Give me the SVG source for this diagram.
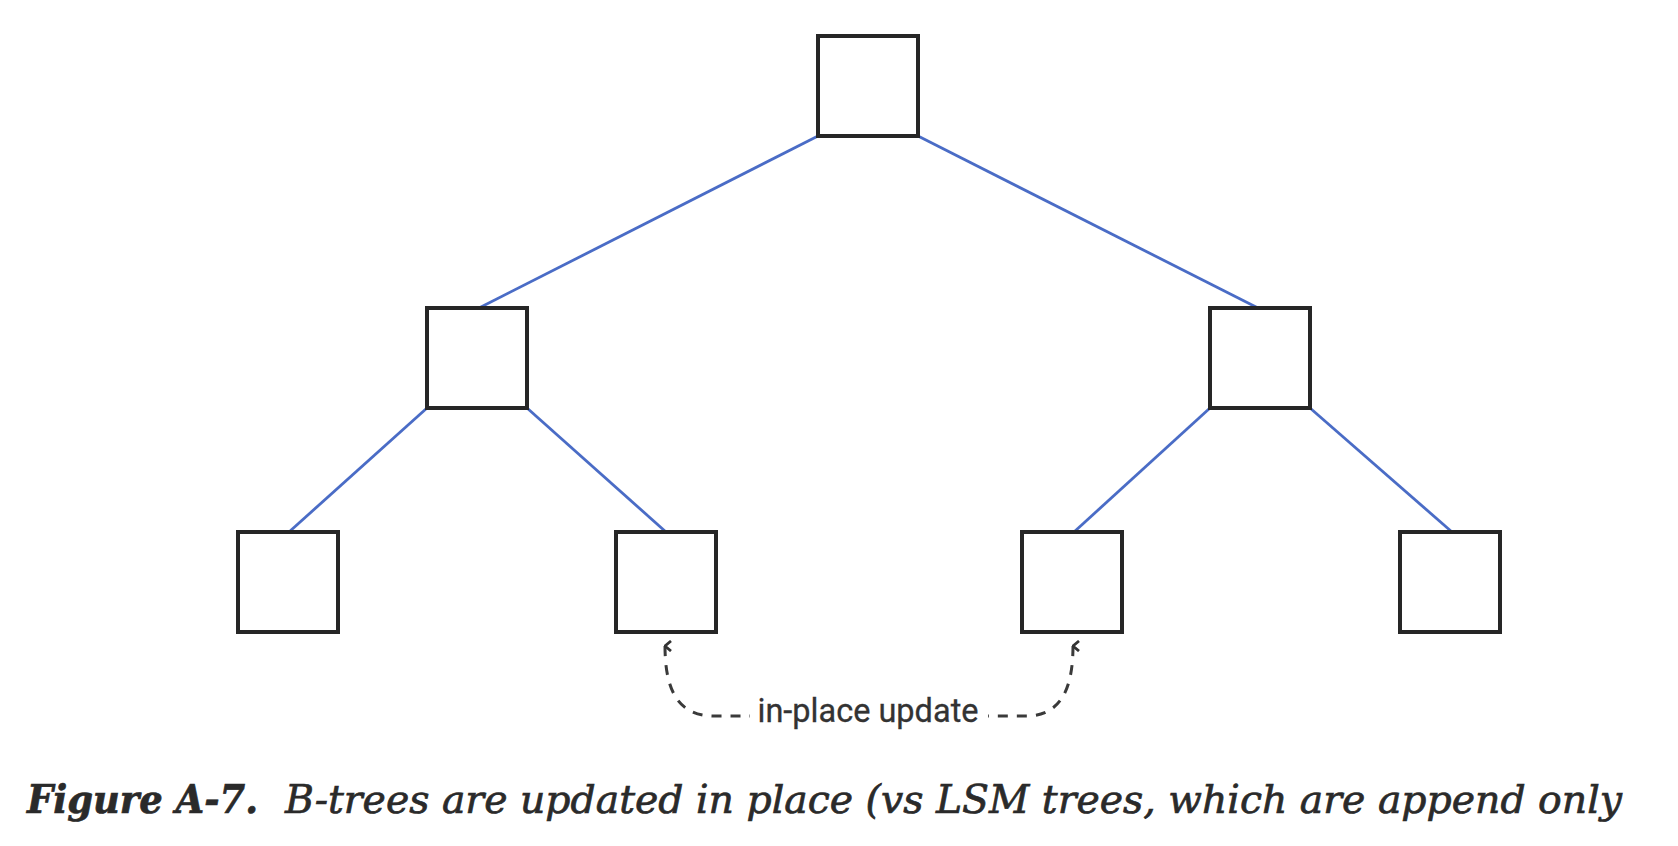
<svg xmlns="http://www.w3.org/2000/svg" width="1678" height="846" viewBox="0 0 1678 846">
<defs>
<style>
.node{fill:#ffffff;stroke:#262626;stroke-width:4}
.edge{stroke:#4a6cc6;stroke-width:2.8;fill:none}
.dash{stroke:#3a3a3a;stroke-width:3;fill:none;stroke-dasharray:10 9}
.lbl{font-family:Roboto,"Liberation Sans",sans-serif;font-size:32.5px;fill:#333333;stroke:#333333;stroke-width:0.3}
.cap{font-family:"DejaVu Serif","Liberation Serif",serif;font-style:italic;font-size:39px;fill:#2a2a2a;stroke:#2a2a2a;stroke-width:0.7}
</style>
<marker id="arr" viewBox="0 0 12 10" refX="6" refY="1.5" markerWidth="12" markerHeight="10" markerUnits="userSpaceOnUse" orient="auto-start-reverse">
<path d="M1,7.5 L6,1.5 L11,7.5" fill="none" stroke="#333333" stroke-width="2.8"/>
</marker>
</defs>
<rect width="1678" height="846" fill="#ffffff"/>
<g id="connectors">
<line class="edge" x1="818" y1="136" x2="479" y2="308"/>
<line class="edge" x1="918" y1="136" x2="1258" y2="308"/>
<line class="edge" x1="427" y1="408" x2="289" y2="532"/>
<line class="edge" x1="527" y1="408" x2="666" y2="532"/>
<line class="edge" x1="1210" y1="408" x2="1074" y2="532"/>
<line class="edge" x1="1310" y1="408" x2="1452" y2="532"/>
<path class="dash" d="M665,646 C665,690 678,715 712,716 L750,716" marker-start="url(#arr)"/>
<path class="dash" d="M1073,646 C1073,690 1060,715 1028,716 L988,716" marker-start="url(#arr)"/>
</g>
<g id="root"><rect class="node" x="818" y="36" width="100" height="100"/></g>
<g id="mid-left"><rect class="node" x="427" y="308" width="100" height="100"/></g>
<g id="mid-right"><rect class="node" x="1210" y="308" width="100" height="100"/></g>
<g id="leaf-1"><rect class="node" x="238" y="532" width="100" height="100"/></g>
<g id="leaf-2"><rect class="node" x="616" y="532" width="100" height="100"/></g>
<g id="leaf-3"><rect class="node" x="1022" y="532" width="100" height="100"/></g>
<g id="leaf-4"><rect class="node" x="1400" y="532" width="100" height="100"/><line x1="1500" y1="530" x2="1500" y2="634" stroke="#262626" stroke-width="3"/></g>
<g id="label"><text class="lbl" x="868" y="722" text-anchor="middle">in-place update</text></g>
<g id="caption">
<text class="cap" x="27" y="813" font-weight="bold" textLength="231" lengthAdjust="spacingAndGlyphs">Figure A-7.</text>
<text class="cap" x="285" y="813" textLength="1337" lengthAdjust="spacingAndGlyphs">B-trees are updated in place (vs LSM trees, which are append only</text>
</g>
</svg>
